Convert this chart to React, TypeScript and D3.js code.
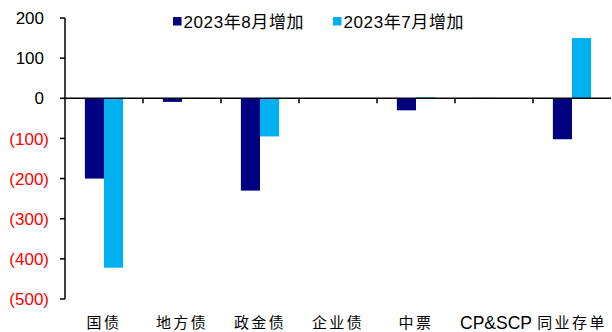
import React from "react";
import * as d3 from "d3";

// Categories and monthly changes (亿元)
const categories = ["国债", "地方债", "政金债", "企业债", "中票", "CP&SCP", "同业存单"];
const seriesNames = ["2023年8月增加", "2023年7月增加"];
const aug2023 = [-200, -9, -230, 0, -30, 1, -102];
const jul2023 = [-422, 1, -95, 0, 2, 0, 150];
const yTicks = [200, 100, 0, -100, -200, -300, -400, -500];
const colors = ["#000080", "#00B0F0"];

const W = 612;
const H = 332;
const left = 65;
const right = 611;
const top = 18;
const bottom = 299;

const fmt = (v: number) => (v < 0 ? `(${Math.abs(v)})` : `${v}`);

export default function App() {
  const x = d3.scaleBand<string>().domain(categories).range([left, right]).paddingInner(0).paddingOuter(0);
  const inner = d3.scaleBand<number>().domain([0, 1]).range([0, x.bandwidth()]).paddingOuter(1.04).paddingInner(0);
  const y = d3.scaleLinear().domain([-500, 200]).range([bottom, top]);
  const series = [aug2023, jul2023];
  const y0 = y(0);

  return (
    <svg
      width={W}
      height={H}
      style={{ position: "absolute", left: 0, top: 0, background: "#fff" }}
      fontFamily="'Liberation Sans', Arial, sans-serif"
    >
      {/* bars */}
      {series.map((vals, si) =>
        vals.map((v, i) => {
          const bx = (x(categories[i]) as number) + (inner(si) as number);
          const yv = y(v);
          return (
            <rect
              key={`${si}-${i}`}
              x={bx}
              y={Math.min(yv, y0)}
              width={inner.bandwidth()}
              height={Math.abs(yv - y0)}
              fill={colors[si]}
            />
          );
        })
      )}

      {/* y axis */}
      <line x1={left} x2={left} y1={top} y2={bottom} stroke="#000" strokeWidth={1.5} />
      {yTicks.map((t) => (
        <g key={t}>
          <line x1={left - 5} x2={left} y1={y(t)} y2={y(t)} stroke="#000" strokeWidth={1.5} />
          <text
            x={t < 0 ? 49 : 44}
            y={y(t)}
            dy="0.36em"
            textAnchor="end"
            fontSize={17}
            fill={t < 0 ? "#FF0000" : "#000"}
          >
            {fmt(t)}
          </text>
        </g>
      ))}

      {/* zero line with category separators */}
      <line x1={left} x2={right} y1={y0} y2={y0} stroke="#000" strokeWidth={1.5} />
      {categories.slice(1).map((c) => (
        <line key={c} x1={x(c)} x2={x(c)} y1={y0} y2={y0 + 5} stroke="#000" strokeWidth={1.5} />
      ))}

      {/* category labels */}
      {categories.map((c) => {
        const latin = c === "CP&SCP";
        return (
          <text
            key={c}
            x={(x(c) as number) + x.bandwidth() / 2 + (latin ? 2 : 0)}
            y={323}
            dy="0.36em"
            textAnchor="middle"
            fontSize={latin ? 17.5 : 15}
            fontFamily={latin ? "'Liberation Sans', Arial, sans-serif" : "'Noto Sans CJK SC', sans-serif"}
            letterSpacing={latin ? 0 : 2.4}
          >
            {c}
          </text>
        );
      })}

      {/* legend */}
      {seriesNames.map((n, i) => {
        const lx = [173, 333][i];
        return (
          <g key={n}>
            <rect x={lx} y={17} width={8.5} height={8.5} fill={colors[i]} />
            <text
              x={lx + 10.5}
              y={21.5}
              dy="0.36em"
              fontSize={17}
              letterSpacing={0.6}
              fontFamily="'Liberation Sans', 'Noto Sans CJK SC', sans-serif"
            >
              {n}
            </text>
          </g>
        );
      })}
    </svg>
  );
}
